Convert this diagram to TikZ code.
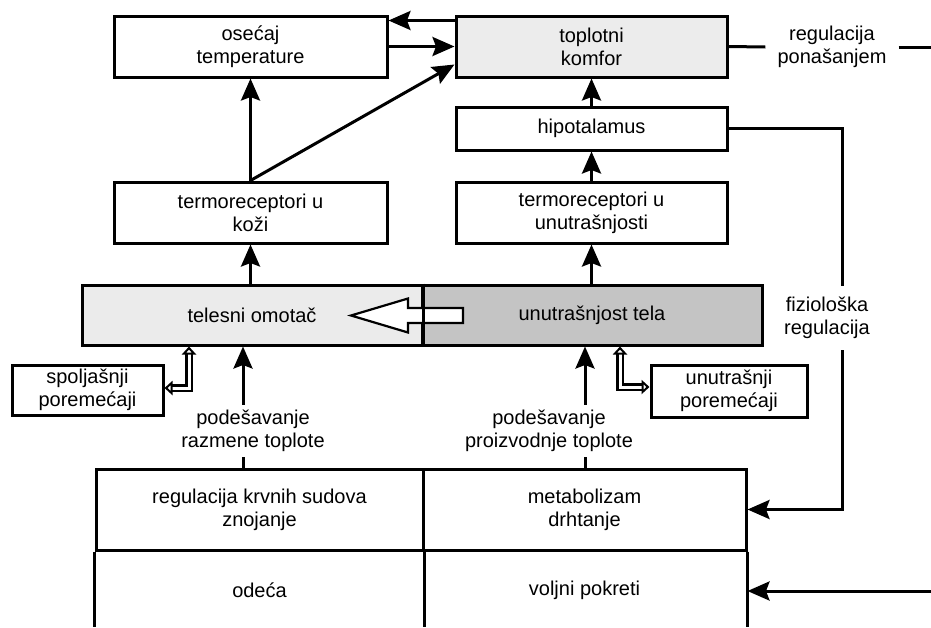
\documentclass[tikz,border=0pt]{standalone}
\usepackage{fontspec}
\setmainfont{Liberation Sans}
\usetikzlibrary{arrows.meta}
\definecolor{komc}{gray}{0.925}
\definecolor{telc}{gray}{0.92}
\definecolor{unuc}{gray}{0.77}
\begin{document}
\begin{tikzpicture}[x=1pt,y=-1pt,
  font=\fontsize{20}{23}\selectfont,
  box/.style={draw, line width=3pt, rectangle, align=center, inner sep=0pt},
  lbl/.style={align=center, inner sep=5pt},
  arr/.style={line width=3pt, -{Stealth[length=22pt,width=19pt,inset=3.5pt]}},
  ln/.style={line width=3pt},
  dbl/.style={double=white, double distance=3pt, line width=2.4pt,
    {Triangle[open,length=8pt,width=14pt]}-{Triangle[open,length=8pt,width=14pt]}}
]
\useasboundingbox (0,0) rectangle (931,627);
% helper coordinates
\coordinate (vx) at (842,0);
\coordinate (re) at (931,47);
\coordinate (rb) at (931,591);
\coordinate (lx) at (243,0);
\coordinate (rx) at (585,0);
\coordinate (dl) at (189,0);
\coordinate (dr) at (620,0);
\coordinate (bot) at (0,627);

% boxes
\node[box, minimum width=273pt, minimum height=61pt] (osec) at (250.5,46.5) {osećaj\\temperature};
\node[box, fill=komc, minimum width=271pt, minimum height=61pt] (komf) at (591.5,46.5) {toplotni\\komfor};
\node[box, minimum width=271pt, minimum height=43pt] (hipo) at (591.5,128.5) {hipotalamus};
\node[box, minimum width=271pt, minimum height=61pt] (tu) at (591.5,212.5) {termoreceptori u\\unutrašnjosti};
\node[box, minimum width=273pt, minimum height=61pt] (tk) at (250.5,212.5) {termoreceptori u\\koži};
\node[box, fill=telc, minimum width=340pt, minimum height=60pt] (tel) at (252,315) {telesni omotač};
\node[box, fill=unuc, minimum width=340pt, minimum height=60pt] (unu) at (592,315) {unutrašnjost tela};
\node[box, minimum width=151pt, minimum height=50pt] (spo) at (87.5,390) {spoljašnji\\poremećaji};
\node[box, minimum width=156pt, minimum height=52pt] (unp) at (729,391) {unutrašnji\\poremećaji};

% labels
\node[lbl, inner xsep=12pt] (rp) at (832,47) {regulacija\\ponašanjem};
\node[lbl, inner ysep=11pt] (fr) at (827,318) {fiziološka\\regulacija};
\node[lbl] (pr) at (253,431) {podešavanje\\razmene toplote};
\node[lbl] (pp) at (549,431) {podešavanje\\proizvodnje toplote};

% table
\node[box, minimum width=327pt, minimum height=81pt] (c11) at (259.5,509.5) {regulacija krvnih sudova\\znojanje};
\node[box, minimum width=323pt, minimum height=81pt] (c12) at (584.5,509.5) {metabolizam\\drhtanje};
\node (c21) at (259.5,590) {odeća};
\node (c22) at (584.5,590) {voljni pokreti};
\draw[ln] (c11.south west) -- (c11.south west |- bot);
\draw[ln] (c11.south east) -- (c11.south east |- bot);
\draw[ln] (c12.south east) -- (c12.south east |- bot);

% hollow arrow
\draw[line width=2.2pt, fill=white] (463,308) -- (408,308) -- (408,298.5) -- (351,315.5) -- (408,332.5) -- (408,323) -- (463,323) -- cycle;
\draw[ln] (tel.north east) -- (tel.south east);

% connectors
\draw[arr] (tk.north) -- (osec.south);
\draw[arr] (tk.north) -- ([yshift=-18pt]komf.west);
\draw[arr] ([yshift=26pt]komf.west) -- ([yshift=26pt]osec.east);
\draw[arr] (osec.east) -- (komf.west);
\draw[arr] (hipo.north) -- (komf.south);
\draw[arr] (tu.north) -- (hipo.south);
\draw[arr] (tu.south |- unu.north) -- (tu.south);
\draw[arr] (tk.south |- tel.north) -- (tk.south);
\draw[ln] (komf.east) -- (rp.west);
\draw[ln] (rp.east) -- (re);
\draw[ln] (hipo.east) -| (fr.north -| vx);
\draw[arr] (fr.south -| vx) |- (c12.east);
\draw[arr] (rb) -- (rb -| c12.east);
\draw[arr] (pr.north -| lx) -- (tel.south -| lx);
\draw[ln] (pr.south -| lx) -- (c11.north -| lx);
\draw[arr] (pp.north -| rx) -- (unu.south -| rx);
\draw[ln] (pp.south -| rx) -- (c12.north -| rx);

% double arrows
\draw[dbl] ([yshift=2pt]spo.east) -| (tel.south -| dl);
\draw[dbl] ([yshift=4pt]unp.west) -| (unu.south -| dr);
\end{tikzpicture}
\end{document}
